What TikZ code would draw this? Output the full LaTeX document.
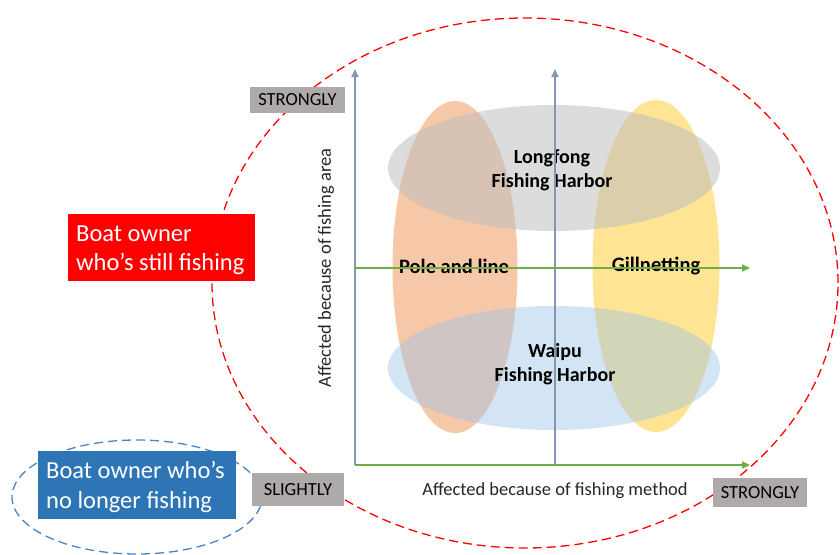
\documentclass[tikz,border=0pt]{standalone}
\usepackage{fontspec}
\setmainfont{Carlito}
\usetikzlibrary{arrows.meta,shapes.geometric}
\definecolor{axisblue}{HTML}{8497B0}
\definecolor{axisgreen}{HTML}{70AD47}
\definecolor{boxgray}{HTML}{AEAAAA}
\definecolor{ownerblue}{HTML}{2E75B6}
\definecolor{dashblue}{HTML}{4A86C5}
\definecolor{txtgray}{HTML}{262626}
\definecolor{ellorange}{HTML}{F4B183}
\definecolor{ellyellow}{HTML}{FFD966}
\definecolor{ellgray}{HTML}{BFBFBF}
\definecolor{ellblue}{HTML}{9DC3E6}
\tikzset{
  levelbox/.style={fill=boxgray, inner sep=0pt, font=\fontsize{18.5}{22}\selectfont, text=black},
  ownerbox/.style={inner sep=0pt, anchor=north west},
  ownertext/.style={inner sep=0pt, align=left, anchor=west, text=white, font=\fontsize{24.5}{29.5}\selectfont},
  blob/.style={ellipse, inner sep=0pt},
  harbor/.style={font=\bfseries\fontsize{20}{24}\selectfont, align=center, text=black},
  methodlbl/.style={font=\bfseries\fontsize{20.5}{24}\selectfont, text=black},
  axislbl/.style={font=\fontsize{18.5}{22}\selectfont, text=txtgray},
  vaxis/.style={draw=axisblue, line width=1.8pt, -{Triangle[length=8pt,width=7pt]}},
  haxis/.style={draw=axisgreen, line width=1.8pt, -{Triangle[length=8pt,width=7pt]}},
  reddash/.style={draw=red, line width=1.3pt, dash pattern=on 9pt off 5pt},
  bluedash/.style={draw=dashblue, line width=1.3pt, dash pattern=on 9pt off 5pt},
}
\begin{document}
\begin{tikzpicture}[x=1pt,y=-1pt]
\useasboundingbox (0,0) rectangle (840,554);
% big circles
\node[blob, reddash, minimum width=626pt, minimum height=530pt] (still) at (525,283) {};
\node[blob, bluedash, minimum width=250pt, minimum height=114pt] (nolonger) at (137,497) {};
% overlapping ellipses
\node[blob, fill=ellorange, fill opacity=0.7, minimum width=125pt, minimum height=332pt] (pole) at (455,267) {};
\node[blob, fill=ellyellow, fill opacity=0.7, minimum width=127pt, minimum height=332pt] (gill) at (656,266) {};
\node[blob, fill=ellgray, fill opacity=0.55, minimum width=332pt, minimum height=126pt] (longfong) at (554,168) {};
\node[blob, fill=ellblue, fill opacity=0.45, minimum width=332pt, minimum height=124pt] (waipu) at (554,368) {};
% texts
\node[harbor] (lftext) at (552,170) {Longfong\\Fishing Harbor};
\node[harbor] (wptext) at (555,364) {Waipu\\Fishing Harbor};
\node[methodlbl] (poletext) at (454,266) {Pole and line};
\node[methodlbl] (gilltext) at (656,266) {Gillnetting};
% axes
\coordinate (o) at (355,465);
\coordinate (ytop) at (355,69);
\coordinate (xend) at (750,465);
\coordinate (mbot) at (555,465);
\coordinate (mtop) at (555,69);
\coordinate (hl) at (355,268);
\coordinate (hr) at (750,268);
\draw[vaxis] (o) -- (ytop);
\draw[vaxis] (mbot) -- (mtop);
\draw[haxis] (hl) -- (hr);
\draw[haxis] (o) -- (xend);
% axis labels
\node[axislbl, rotate=90] (ylbl) at (326,268) {Affected because of fishing area};
\node[axislbl] (xlbl) at (555,491) {Affected because of fishing method};
\node[levelbox, minimum width=95pt, minimum height=26pt] (ystrong) at (297.5,100) {STRONGLY};
\node[levelbox, minimum width=92pt, minimum height=33pt] (slight) at (298,489.5) {SLIGHTLY};
\node[levelbox, minimum width=94pt, minimum height=29pt] (xstrong) at (760,492.5) {STRONGLY};
% owner boxes
\node[ownerbox, fill=red, minimum width=187pt, minimum height=67pt] (stillbox) at (68,214) {};
\node[ownertext] (stilltext) at (76,250) {Boat owner\\who’s still fishing};
\node[ownerbox, fill=ownerblue, minimum width=198pt, minimum height=68pt] (nolongerbox) at (38,451) {};
\node[ownertext] (nolongertext) at (46,487) {Boat owner who’s\\no longer fishing};
\end{tikzpicture}
\end{document}
